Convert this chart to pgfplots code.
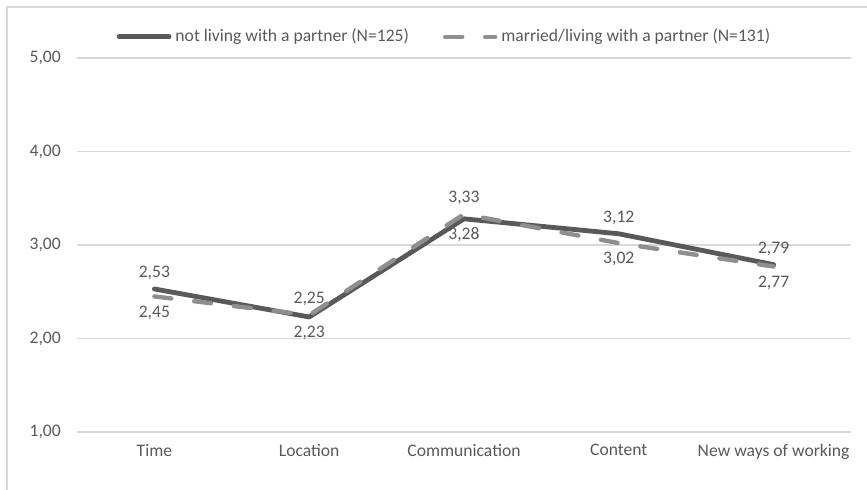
\documentclass[border=0pt]{standalone}
\usepackage{pgfplots}
\pgfplotsset{compat=1.18}
\usepackage{fontspec}
\setmainfont{Carlito}
\definecolor{txt}{HTML}{595959}
\definecolor{darkl}{HTML}{595959}
\definecolor{lightl}{HTML}{8F8F8F}
\definecolor{gridc}{HTML}{D9D9D9}
\begin{document}
\fontsize{8.8}{10.5}\selectfont
\begin{tikzpicture}
\path[use as bounding box] (-38.5pt,-28.5pt) rectangle (395pt,216pt);
\draw[gridc, line width=0.6pt] (-35pt,-40pt) -- (-35pt,212.5pt) -- (400pt,212.5pt);
\begin{axis}[
  at={(0pt,0pt)}, anchor=south west,
  scale only axis, width=387pt, height=187pt,
  xmin=-0.5, xmax=4.5, ymin=1, ymax=5,
  xtick={0,1,2,3,4},
  xticklabels={Time,Location,Communication,Content,New ways of working},
  ytick={1,2,3,4,5},
  ymajorgrids, grid style={gridc, line width=0.6pt},
  axis line style={draw=none},
  major tick style={draw=none},
  ticklabel style={text=txt, font=\fontsize{8.8}{10.5}\selectfont},
  yticklabel style={xshift=-5pt},
  xticklabel style={yshift=-3pt},
  /pgf/number format/.cd, fixed, fixed zerofill, precision=2, use comma, assume math mode=true,
  /pgfplots/.cd,
  legend style={draw=none, fill=none, at={(rel axis cs:0.476,1)}, anchor=south, yshift=2.5pt,
    legend columns=2, text=txt, font=\fontsize{8.8}{10.5}\selectfont,
    /tikz/every even column/.append style={column sep=15pt}},
  legend image code/.code={\draw[#1] (0pt,0pt) -- (25pt,0pt);},
  visualization depends on={\thisrow{pos} \as \labpos},
  nodes near coords,
  point meta=explicit,
  nodes near coords align={center},
  every node near coord/.append style={text=txt, font=\fontsize{8.8}{10.5}\selectfont, yshift=\labpos*8pt, anchor=center},
]
\addplot[darkl, line width=2.4pt, line cap=round, line join=round, mark=none]
  table[x=x, y=y, meta=y] {
x y pos
0 2.53 1
1 2.23 -1
2 3.28 -1
3 3.12 1
4 2.79 1
};
\addlegendentry{not living with a partner (N=125)}
\addplot[lightl, line width=2.2pt, line cap=round, line join=round, dash pattern=on 8.5pt off 11.5pt, mark=none]
  table[x=x, y=y, meta=y] {
x y pos
0 2.45 -1
1 2.25 1
2 3.33 1
3 3.02 -1
4 2.77 -1
};
\addlegendentry{married/living with a partner (N=131)}
\end{axis}
\end{tikzpicture}
\end{document}
